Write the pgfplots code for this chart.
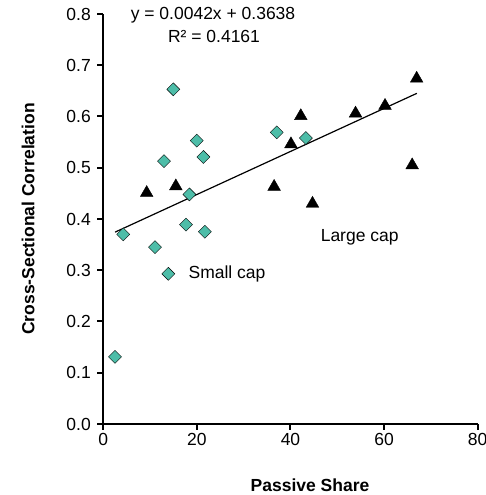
\documentclass[border=0pt]{standalone}
\usepackage{pgfplots}
\pgfplotsset{compat=1.18}
\usepackage{fontspec}
\setmainfont{Liberation Sans}
\definecolor{tealc}{RGB}{77,189,168}
\newcommand\f{\fontsize{17.5}{21}\selectfont}
\begin{document}
\begin{tikzpicture}[x=1pt,y=1pt]
\path[use as bounding box] (0,0) rectangle (485,495);
\begin{axis}[
  at={(103.3pt,71pt)}, anchor=south west,
  scale only axis, width=374.4pt, height=410pt,
  xmin=0, xmax=80, ymin=0, ymax=0.8,
  axis lines=left,
  axis line style={-, line width=2pt, black},
  xtick={0,20,40,60,80},
  ytick={0,0.1,0.2,0.3,0.4,0.5,0.6,0.7,0.8},
  tick align=outside,
  major tick length=6pt,
  tick style={black, line width=2pt},
  /pgf/number format/assume math mode=true,
  tick label style={font=\f},
  y tick label style={/pgf/number format/fixed, /pgf/number format/fixed zerofill, /pgf/number format/precision=1, xshift=-3pt},
  clip=false,
]
% Small cap
\addplot[only marks, mark=square*, mark size=4.6pt, mark options={rotate=45, fill=tealc, draw=none}] coordinates {
(14.96,0.653) (19.96,0.553) (12.97,0.513) (21.4,0.521) (37.05,0.569) (43.3,0.558)
(18.4,0.448) (4.27,0.370) (17.67,0.389) (21.7,0.375) (11.05,0.345) (13.9,0.293) (2.5,0.131)
};
% Large cap
\addplot[only marks, mark=triangle*, mark size=7.3pt, mark options={fill=black, draw=none}] coordinates {
(66.96,0.674) (60.2,0.621) (53.9,0.606) (42.2,0.601) (40.1,0.546) (66.0,0.505)
(9.27,0.451) (15.5,0.464) (36.5,0.463) (44.7,0.430)
};
% Trend line
\addplot[black, line width=1.2pt, no marks] coordinates {(2.5,0.3743) (67,0.6452)};
\end{axis}
\node[font=\f] at (213,480) {y = 0.0042x + 0.3638};
\node[font=\f] at (214,459) {R² = 0.4161};
\node[font=\f] at (359.7,258) {Large cap};
\node[font=\f] at (227,221) {Small cap};
\node[font=\f\bfseries] at (310,10) {Passive Share};
\node[font=\f\bfseries, rotate=90] at (28,276) {Cross-Sectional Correlation};
\end{tikzpicture}
\end{document}
